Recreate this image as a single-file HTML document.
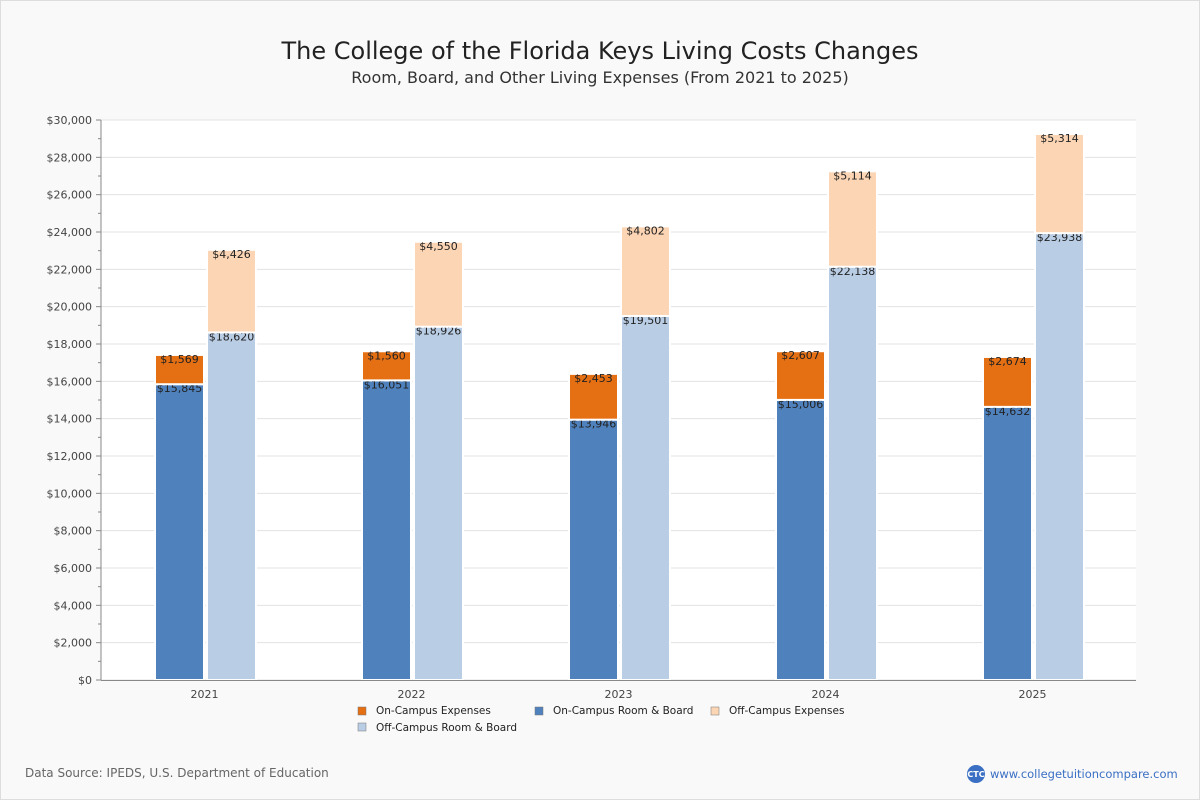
<!DOCTYPE html>
<html><head><meta charset="utf-8"><style>
body{margin:0;background:#fff;font-family:"DejaVu Sans","Liberation Sans",sans-serif}
#wrap{position:relative;width:1198px;height:798px;border:1px solid #ddd;background:#f9f9f9}
</style></head><body>
<div id="wrap">
<svg id="svg" width="1198" height="798" xmlns="http://www.w3.org/2000/svg">
<text x="599" y="58" text-anchor="middle" font-size="24" fill="#222">The College of the Florida Keys Living Costs Changes</text>
<text x="599" y="82" text-anchor="middle" font-size="16" fill="#333">Room, Board, and Other Living Expenses (From 2021 to 2025)</text>
<rect x="100" y="119" width="1035" height="560" fill="#fff"/>
<g id="grid"></g><g id="bars"></g><g id="axes"></g>
<g id="legend" font-size="10.5" fill="#222">
<rect x="357" y="706" width="8" height="8" fill="#e56f13" stroke="#777" stroke-width="0.5"/>
<text x="375" y="713">On-Campus Expenses</text>
<rect x="534" y="706" width="8" height="8" fill="#4f81bd" stroke="#777" stroke-width="0.5"/>
<text x="552" y="713">On-Campus Room &amp; Board</text>
<rect x="710" y="706" width="8" height="8" fill="#fcd5b4" stroke="#777" stroke-width="0.5"/>
<text x="728" y="713">Off-Campus Expenses</text>
<rect x="357" y="722" width="8" height="8" fill="#b9cde5" stroke="#777" stroke-width="0.5"/>
<text x="375" y="730">Off-Campus Room &amp; Board</text>
</g>
<text x="24" y="776" font-size="12" fill="#666">Data Source: IPEDS, U.S. Department of Education</text>
<circle cx="975" cy="773" r="9" fill="#3a6fc4"/>
<text x="975" y="776" font-size="8" fill="#fff" text-anchor="middle" font-weight="bold">CTC</text>
<text x="989" y="777" font-size="11.5" fill="#3a6fc4">www.collegetuitioncompare.com</text>
</svg></div>
<script>
const years=["2021","2022","2023","2024","2025"];
const onRB=[15845,16051,13946,15006,14632];
const onExp=[1569,1560,2453,2607,2674];
const offRB=[18620,18926,19501,22138,23938];
const offExp=[4426,4550,4802,5114,5314];
const ticks=[0,2000,4000,6000,8000,10000,12000,14000,16000,18000,20000,22000,24000,26000,28000,30000];
const NS="http://www.w3.org/2000/svg";
const X0=100,W=1035,Y0=679,H=560,MAX=30000;
const y=v=>Y0-v/MAX*H;
const gx=i=>X0+W/years.length*(i+0.5);
const fmt=v=>"$"+v.toLocaleString("en-US");
function mk(tag,attrs,parent,txt){const e=document.createElementNS(NS,tag);for(const k in attrs)e.setAttribute(k,attrs[k]);if(txt!=null)e.textContent=txt;document.getElementById(parent).appendChild(e);return e;}
ticks.forEach((t,i)=>{
 const g=mk("line",{x1:X0,x2:X0+W,y1:y(t),y2:y(t),stroke:"#e3e3e3"},"grid");
 
 
 const l=mk("text",{x:91,y:y(t)+4,"text-anchor":"end","font-size":11,fill:"#444"},"axes",fmt(t));
 
 
 const tk=mk("line",{x1:95,x2:X0,y1:y(t),y2:y(t),stroke:"#888"},"axes");
 
 
 if(i<ticks.length-1){const m=mk("line",{x1:97,x2:X0,y1:y(t+1000),y2:y(t+1000),stroke:"#888"},"axes");
 
 }
});
const ax=mk("line",{x1:X0,x2:X0,y1:119,y2:Y0,stroke:"#888"},"axes");


const bx=mk("line",{x1:X0,x2:X0+W,y1:Y0+0.5,y2:Y0+0.5,stroke:"#888"},"axes");


function seg(x,base,val,color,name){
 const r=mk("rect",{x:x,y:y(base+val),width:49,height:y(base)-y(base+val),fill:color,stroke:"#fff","stroke-width":2},"bars");
 
 
 const t=mk("text",{x:x+24.5,y:y(base+val)+8,"text-anchor":"middle","font-size":11,fill:"#222"},"bars",fmt(val));
 
 
}
years.forEach((yr,i)=>{
 const c=gx(i);
 seg(c-49.5,0,onRB[i],"#4f81bd","bar-on-campus-room-board-"+yr);
 seg(c-49.5,onRB[i],onExp[i],"#e56f13","bar-on-campus-expenses-"+yr);
 seg(c+2.5,0,offRB[i],"#b9cde5","bar-off-campus-room-board-"+yr);
 seg(c+2.5,offRB[i],offExp[i],"#fcd5b4","bar-off-campus-expenses-"+yr);
 const t=mk("text",{x:c,y:697,"text-anchor":"middle","font-size":11,fill:"#444"},"axes",yr);
 
 
});
</script>
</body></html>
